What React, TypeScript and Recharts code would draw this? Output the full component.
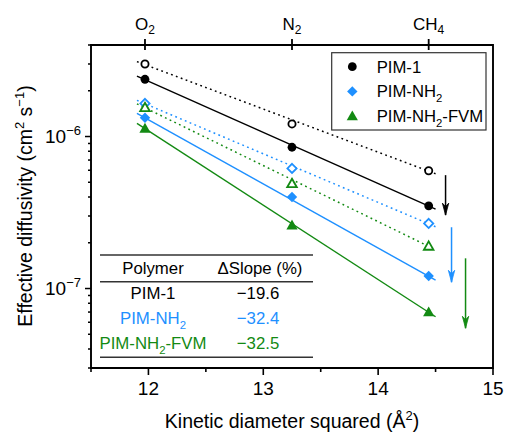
import React from 'react';
import { ComposedChart, XAxis, YAxis, Line, Scatter, ReferenceArea } from 'recharts';

const FONT = '"Liberation Sans", Arial, Helvetica, sans-serif';
const C_BLACK = '#000000';
const C_BLUE = '#1E90FF';
const C_GREEN = '#138A13';

// gases on the top axis (kinetic diameter squared, Å^2)
const gasKd = [11.97, 13.25, 14.44];
const gasBase = ['O', 'N', 'CH'];
const gasSub = ['2', '2', '4'];

// effective diffusivity (cm^2 s^-1) at O2, N2, CH4
const pim1Filled = [2.38e-6, 8.5e-7, 3.5e-7];
const pim1Open = [3.0e-6, 1.21e-6, 5.95e-7];
const nh2Filled = [1.33e-6, 4.0e-7, 1.21e-7];
const nh2Open = [1.65e-6, 6.17e-7, 2.68e-7];
const fvmFilled = [1.13e-6, 2.61e-7, 7.0e-8];
const fvmOpen = [1.55e-6, 4.9e-7, 1.9e-7];

// fitted line end points
const fitX = [11.9, 14.5];
const pim1FilledFit = [2.5e-6, 3.33e-7];
const pim1OpenFit = [3.11e-6, 5.69e-7];
const nh2FilledFit = [1.42e-6, 1.135e-7];
const nh2OpenFit = [1.73e-6, 2.55e-7];
const fvmFilledFit = [1.22e-6, 6.52e-8];
const fvmOpenFit = [1.64e-6, 1.8e-7];

// down arrows
const arrowX = [14.587, 14.639, 14.761];
const arrowTop = [5.57e-7, 2.53e-7, 1.58e-7];
const arrowTip = [3.04e-7, 1.1e-7, 5.48e-8];

// axes
const xDomain = [11.5, 15];
const xTicks = [11.5, 12, 12.5, 13, 13.5, 14, 14.5, 15];
const xMajorTicks = [12, 13, 14, 15];
const yDomain = [3e-8, 4e-6];
const yTicks = [
  3e-8, 4e-8, 5e-8, 6e-8, 7e-8, 8e-8, 9e-8,
  1e-7, 2e-7, 3e-7, 4e-7, 5e-7, 6e-7, 7e-7, 8e-7, 9e-7,
  1e-6, 2e-6, 3e-6, 4e-6,
];
const yMajorTicks = [1e-7, 1e-6];

// legend / table
const polymerNames = ['PIM-1', 'PIM-NH_2', 'PIM-NH_2-FVM'];
const deltaSlope = [-19.6, -32.4, -32.5];
const seriesColors = [C_BLACK, C_BLUE, C_GREEN];
const markerKinds = ['circle', 'diamond', 'triangle'];

const pts = (xs: number[], ys: number[]) => xs.map((x, i) => ({ x, y: ys[i] }));

function Rich({ text, size }: { text: string; size: number }) {
  const parts = text.split(/_(\d)/);
  const out: any[] = [];
  let prevSub = false;
  parts.forEach((p, i) => {
    if (p === '') return;
    if (i % 2 === 1) {
      out.push(
        <tspan key={i} dy={size * 0.3} fontSize={size * 0.68}>
          {p}
        </tspan>
      );
      prevSub = true;
    } else {
      out.push(
        <tspan key={i} dy={prevSub ? -size * 0.3 : 0}>
          {p}
        </tspan>
      );
      prevSub = false;
    }
  });
  return <>{out}</>;
}

function Marker({ kind, filled, cx, cy, color }: any) {
  if (cx == null || cy == null) return <g />;
  if (kind === 'circle') {
    return filled ? (
      <circle cx={cx} cy={cy} r={4.4} fill={color} />
    ) : (
      <circle cx={cx} cy={cy} r={3.6} fill="#fff" stroke={color} strokeWidth={1.8} />
    );
  }
  if (kind === 'diamond') {
    const h = filled ? 5.2 : 4.6;
    const d = `M${cx},${cy - h} L${cx + h},${cy} L${cx},${cy + h} L${cx - h},${cy} Z`;
    return filled ? (
      <path d={d} fill={color} />
    ) : (
      <path d={d} fill="#fff" stroke={color} strokeWidth={1.8} />
    );
  }
  const s = filled ? 5.6 : 4.8;
  const d = `M${cx},${cy - s} L${cx + s},${cy + s * 0.75} L${cx - s},${cy + s * 0.75} Z`;
  return filled ? (
    <path d={d} fill={color} />
  ) : (
    <path d={d} fill="#fff" stroke={color} strokeWidth={1.8} />
  );
}

const BottomTick = (props: any) => {
  const { x, y, payload } = props;
  const v = payload.value;
  const major = xMajorTicks.includes(v);
  return (
    <g>
      <line x1={x} x2={x} y1={y} y2={y + (major ? 7 : 4)} stroke="#000" strokeWidth={1.6} />
      {major && (
        <text x={x} y={y + 27} textAnchor="middle" fontFamily={FONT} fontSize={19} fill="#000">
          {v}
        </text>
      )}
    </g>
  );
};

const TopTick = (props: any) => {
  const { x, y, payload } = props;
  const i = gasKd.indexOf(payload.value);
  return (
    <g>
      <line x1={x} x2={x} y1={y - 6} y2={y + 5} stroke="#000" strokeWidth={1.8} />
      {i >= 0 && (
        <text x={x} y={y - 15} textAnchor="middle" fontFamily={FONT} fontSize={17} fill="#000">
          {gasBase[i]}
          <tspan dy={4} fontSize={12}>
            {gasSub[i]}
          </tspan>
        </text>
      )}
    </g>
  );
};

const LeftTick = (props: any) => {
  const { x, y, payload } = props;
  const v = payload.value;
  const major = yMajorTicks.some((m) => Math.abs(m - v) / m < 1e-6);
  const exp = Math.round(Math.log10(v));
  return (
    <g>
      <line x1={x - (major ? 6 : 3)} x2={x} y1={y} y2={y} stroke="#000" strokeWidth={1.5} />
      {major && (
        <text x={x - 10} y={y + 6.8} textAnchor="end" fontFamily={FONT} fontSize={19} fill="#000">
          10
          <tspan dy={-8} fontSize={13}>
            {'\u2212' + Math.abs(exp)}
          </tspan>
        </text>
      )}
    </g>
  );
};

const ArrowHead = (color: string) => (p: any) => {
  const { cx, cy, index } = p;
  if (index !== 1 || cx == null) return <g key={`a-${index}`} />;
  return (
    <path
      key={`a-${index}`}
      d={`M${cx},${cy} L${cx - 3.2},${cy - 12} L${cx},${cy - 8.5} L${cx + 3.2},${cy - 12} Z`}
      fill={color}
      stroke={color}
      strokeWidth={0.8}
    />
  );
};

const shapeFor = (kind: string, filled: boolean, color: string) => (p: any) => (
  <Marker kind={kind} filled={filled} cx={p.cx} cy={p.cy} color={color} />
);

const filledSets = [pim1Filled, nh2Filled, fvmFilled];
const openSets = [pim1Open, nh2Open, fvmOpen];
const filledFits = [pim1FilledFit, nh2FilledFit, fvmFilledFit];
const openFits = [pim1OpenFit, nh2OpenFit, fvmOpenFit];

export default function App() {
  const tableX0 = 100;
  const tableX1 = 313;
  const colA = 153;
  const colB = 258;
  const fs = 16.8;
  return (
    <div style={{ position: 'absolute', left: 0, top: 0, width: 505, height: 432, background: '#fff' }}>
      <ComposedChart width={505} height={432} margin={{ top: 0, right: 12, bottom: 0, left: 0 }}>
        <XAxis
          dataKey="x"
          type="number"
          domain={xDomain}
          ticks={xTicks}
          interval={0}
          height={64}
          axisLine={false}
          tickLine={false}
          tickSize={0}
          tickMargin={0}
          tick={<BottomTick />}
          allowDataOverflow
        />
        <XAxis
          xAxisId="top"
          orientation="top"
          dataKey="x"
          type="number"
          domain={xDomain}
          ticks={gasKd}
          interval={0}
          height={45}
          axisLine={false}
          tickLine={false}
          tickSize={0}
          tickMargin={0}
          tick={<TopTick />}
          allowDataOverflow
        />
        <YAxis
          dataKey="y"
          type="number"
          scale="log"
          domain={yDomain}
          ticks={yTicks}
          interval={0}
          width={91}
          axisLine={false}
          tickLine={false}
          tickSize={0}
          tickMargin={0}
          tick={<LeftTick />}
          allowDataOverflow
        />
        <ReferenceArea
          x1={xDomain[0]}
          x2={xDomain[1]}
          y1={yDomain[0]}
          y2={yDomain[1]}
          fill="none"
          fillOpacity={0}
          stroke="#000"
          strokeWidth={1.9}
          ifOverflow="visible"
        />
        {openFits.map((f, i) => (
          <Line
            key={`of${i}`}
            data={pts(fitX, f)}
            dataKey="y"
            stroke={seriesColors[i]}
            strokeWidth={1.5}
            strokeDasharray="1.8 3.4"
            dot={false}
            isAnimationActive={false}
          />
        ))}
        {filledFits.map((f, i) => (
          <Line
            key={`ff${i}`}
            data={pts(fitX, f)}
            dataKey="y"
            stroke={seriesColors[i]}
            strokeWidth={1.4}
            dot={false}
            isAnimationActive={false}
          />
        ))}
        {openSets.map((s, i) => (
          <Scatter
            key={`os${i}`}
            data={pts(gasKd, s)}
            dataKey="y"
            shape={shapeFor(markerKinds[i], false, seriesColors[i])}
            isAnimationActive={false}
          />
        ))}
        {filledSets.map((s, i) => (
          <Scatter
            key={`fs${i}`}
            data={pts(gasKd, s)}
            dataKey="y"
            shape={shapeFor(markerKinds[i], true, seriesColors[i])}
            isAnimationActive={false}
          />
        ))}
        {arrowX.map((ax, i) => (
          <Line
            key={`ar${i}`}
            data={[
              { x: ax, y: arrowTop[i] },
              { x: ax, y: arrowTip[i] },
            ]}
            dataKey="y"
            stroke={seriesColors[i]}
            strokeWidth={1.5}
            dot={ArrowHead(seriesColors[i])}
            activeDot={false}
            isAnimationActive={false}
          />
        ))}
      </ComposedChart>
      <svg
        width={505}
        height={432}
        style={{ position: 'absolute', left: 0, top: 0, pointerEvents: 'none' }}
        fontFamily={FONT}
      >
        {/* axis titles */}
        <text x={292} y={428} textAnchor="middle" fontSize={19.5} fill="#000">
          Kinetic diameter squared (Å
          <tspan dy={-8} fontSize={13}>
            2
          </tspan>
          <tspan dy={8}>)</tspan>
        </text>
        <text
          transform="translate(32 206) rotate(-90)"
          textAnchor="middle"
          fontSize={19.5}
          fill="#000"
        >
          Effective diffusivity (cm
          <tspan dy={-8} fontSize={13}>
            2
          </tspan>
          <tspan dy={8}> s</tspan>
          <tspan dy={-8} fontSize={13}>
            {'\u22121'}
          </tspan>
          <tspan dy={8}>)</tspan>
        </text>

        {/* legend */}
        <rect x={331.7} y={52.7} width={154.3} height={77.3} fill="#fff" stroke="#333" strokeWidth={1.2} />
        {polymerNames.map((n, i) => {
          const cy = 66.7 + i * 24.7;
          return (
            <g key={`lg${i}`}>
              <Marker kind={markerKinds[i]} filled cx={352.3} cy={cy} color={seriesColors[i]} />
              <text x={376.7} y={cy + 6} fontSize={16.7} fill="#000">
                <Rich text={n} size={16.7} />
              </text>
            </g>
          );
        })}

        {/* table */}
        <line x1={tableX0} x2={tableX1} y1={255} y2={255} stroke="#333" strokeWidth={1.5} />
        <line x1={tableX0} x2={tableX1} y1={281.7} y2={281.7} stroke="#333" strokeWidth={1.5} />
        <line x1={tableX0} x2={tableX1} y1={357.3} y2={357.3} stroke="#333" strokeWidth={1.5} />
        <text x={colA} y={274.3} textAnchor="middle" fontSize={fs} fill="#000">
          Polymer
        </text>
        <text x={colB + 2} y={274.3} textAnchor="middle" fontSize={fs} fill="#000">
          ΔSlope (%)
        </text>
        {polymerNames.map((n, i) => {
          const by = 299.3 + i * 25;
          return (
            <g key={`tb${i}`}>
              <text x={colA} y={by} textAnchor="middle" fontSize={fs} fill={seriesColors[i]}>
                <Rich text={n} size={fs} />
              </text>
              <text x={colB} y={by} textAnchor="middle" fontSize={fs} fill={seriesColors[i]}>
                {'\u2212' + Math.abs(deltaSlope[i]).toFixed(1)}
              </text>
            </g>
          );
        })}
      </svg>
    </div>
  );
}
